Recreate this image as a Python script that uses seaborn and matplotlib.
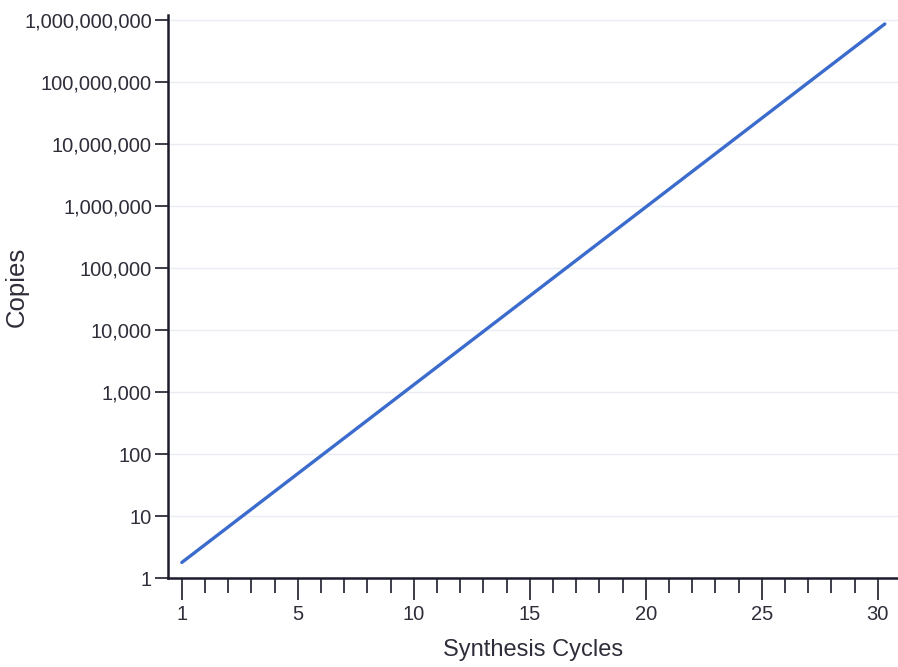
import pandas as pd
import seaborn as sns
import matplotlib.pyplot as plt
from matplotlib.ticker import FixedLocator, FuncFormatter, NullLocator

# line: starts at the "1" tick, ends just past the "30" tick
cycle_pos = [0, 30.3]
copies = [1.8, 8.5e8]

y_ticks = [1, 10, 100, 1000, 10000, 100000, 1000000, 10000000, 100000000, 1000000000]
# the first labelled tick ("1") sits one step left of the regular spacing
x_tick_pos = [0, 5, 10, 15, 20, 25, 30]
x_tick_labels = ["1", "5", "10", "15", "20", "25", "30"]
x_minor_pos = [1, 2, 3, 4, 6, 7, 8, 9, 11, 12, 13, 14, 16, 17, 18, 19,
               21, 22, 23, 24, 26, 27, 28, 29]

df = pd.DataFrame({"cycle": cycle_pos, "copies": copies})

sns.set_style("white")
plt.rcParams["font.family"] = ["Liberation Sans", "DejaVu Sans"]

text_col = "#2e2e3a"
axis_col = "#1c1c2c"

fig = plt.figure(figsize=(8.98, 6.67), dpi=100)
ax = fig.add_axes([0.187, 0.133, 0.813, 0.845])

sns.lineplot(data=df, x="cycle", y="copies", color="#3b6bcc", linewidth=2.4, ax=ax)

ax.set_yscale("log")
ax.set_ylim(1, 1.2e9)
ax.set_xlim(-0.6, 30.87)

# faint horizontal grid
for v in y_ticks[1:]:
    ax.axhline(v, color="#eaecf2", linewidth=1.0, zorder=0)

ax.yaxis.set_major_locator(FixedLocator(y_ticks))
ax.yaxis.set_minor_locator(NullLocator())
ax.yaxis.set_major_formatter(FuncFormatter(lambda v, p: f"{int(round(v)):,}"))

ax.set_xticks(x_tick_pos)
ax.set_xticklabels(x_tick_labels)
ax.xaxis.set_minor_locator(FixedLocator(x_minor_pos))

ax.tick_params(axis="y", which="major", direction="out", length=9.5, width=1.2,
               color=axis_col, labelsize=14.5, labelcolor=text_col, pad=2, left=True)
ax.tick_params(axis="x", which="major", direction="out", length=16, width=1.2,
               color=axis_col, labelsize=14.5, labelcolor=text_col, pad=3, bottom=True)
ax.tick_params(axis="x", which="minor", direction="out", length=10.5, width=1.2,
               color=axis_col, bottom=True)

for side in ["top", "right"]:
    ax.spines[side].set_visible(False)
for side in ["left", "bottom"]:
    ax.spines[side].set_color(axis_col)
    ax.spines[side].set_linewidth(1.8)

ax.set_xlabel("Synthesis Cycles", fontsize=17, color=text_col, labelpad=11)
ax.set_ylabel("Copies", fontsize=18.5, color=text_col)
ax.yaxis.set_label_coords(-0.19, 0.517)

plt.savefig("out.png", dpi=100)
